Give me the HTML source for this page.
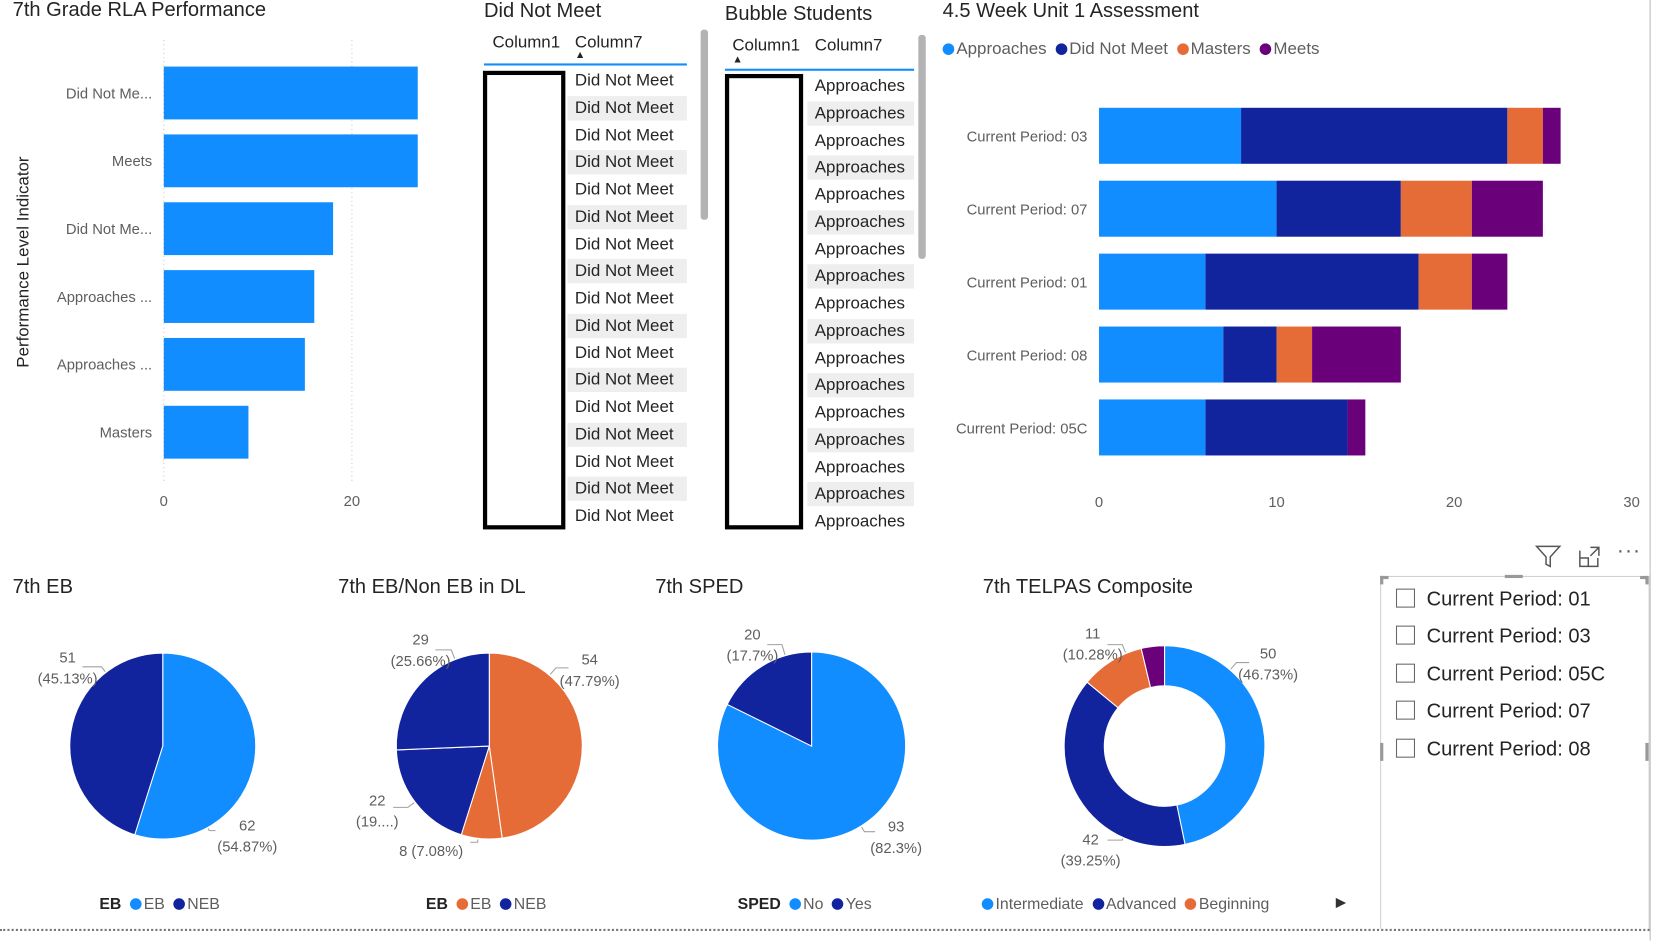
<!DOCTYPE html>
<html><head><meta charset="utf-8">
<style>
html,body{margin:0;padding:0;background:#fff;overflow:hidden;width:1657px;height:940px}
#root{position:absolute;left:0;top:0;width:1568px;height:890px;transform:scale(1.05676);transform-origin:0 0;font-family:"Liberation Sans",sans-serif;color:#252423}
.t{position:absolute;white-space:nowrap}
.title{font-size:19px;color:#252423}
.lbl{font-size:14px;fill:#605e5c;font-family:"Liberation Sans",sans-serif}
.row{position:absolute;height:23px;font-size:16px;line-height:23px;padding-left:7px;color:#252423}
.slicer-item{position:absolute;left:1321px;font-size:19px;color:#252423}
.cb{display:inline-block;width:16px;height:16px;border:1px solid #666;vertical-align:-2px;margin-right:11px}
.dot{display:inline-block;width:11px;height:11px;border-radius:50%;margin:0 2px 0 4px;vertical-align:-1px}
</style></head><body>
<div id="root">
<svg id="svg" width="1568" height="890" style="position:absolute;left:0;top:0"></svg>

<div class="t title" style="left:12px;top:-1px">7th Grade RLA Performance</div>
<div class="t title" style="left:458px;top:0px">Did Not Meet</div>
<div class="t title" style="left:686px;top:3px">Bubble Students</div>
<div class="t title" style="left:892px;top:0px">4.5 Week Unit 1 Assessment</div>
<div class="t title" style="left:12px;top:545px">7th EB</div>
<div class="t title" style="left:320px;top:545px">7th EB/Non EB in DL</div>
<div class="t title" style="left:620px;top:545px">7th SPED</div>
<div class="t title" style="left:930px;top:545px">7th TELPAS Composite</div>

<div>
<div class="t" style="left:466px;top:32px;font-size:16px">Column1</div>
<div class="t" style="left:544px;top:32px;font-size:16px">Column7</div>
<div class="t" style="left:544px;top:47px;font-size:10px">▲</div>
<div style="position:absolute;left:458px;top:60px;width:192px;height:2px;background:#118DFF"></div>
<div style="position:absolute;left:457px;top:67px;width:70px;height:426px;border:4px solid #000"></div>
<div id="t1rows"></div>
<div style="position:absolute;left:663px;top:28px;width:7px;height:180px;background:#b3b3b3;border-radius:3px"></div>
</div>

<div>
<div class="t" style="left:693px;top:35px;font-size:16px">Column1</div>
<div class="t" style="left:771px;top:35px;font-size:16px">Column7</div>
<div class="t" style="left:693px;top:51px;font-size:10px">▲</div>
<div style="position:absolute;left:686px;top:65px;width:179px;height:2px;background:#118DFF"></div>
<div style="position:absolute;left:686px;top:70px;width:66px;height:423px;border:4px solid #000"></div>
<div id="t2rows"></div>
<div style="position:absolute;left:869px;top:33px;width:7px;height:212px;background:#b3b3b3;border-radius:3px"></div>
</div>

<div class="t" style="left:888px;top:38px;font-size:16px;color:#605e5c">
<span><span class="dot" style="background:#118DFF"></span>Approaches</span>
<span><span class="dot" style="background:#12239E"></span>Did Not Meet</span>
<span><span class="dot" style="background:#E66C37"></span>Masters</span>
<span><span class="dot" style="background:#6B007B"></span>Meets</span>
</div>

<div class="t" style="left:94px;top:847px;font-size:15px;color:#605e5c"><b style="color:#252423">EB</b> <span class="dot" style="background:#118DFF"></span>EB <span class="dot" style="background:#12239E"></span>NEB</div>
<div class="t" style="left:403px;top:847px;font-size:15px;color:#605e5c"><b style="color:#252423">EB</b> <span class="dot" style="background:#E66C37"></span>EB <span class="dot" style="background:#12239E"></span>NEB</div>
<div class="t" style="left:698px;top:847px;font-size:15px;color:#605e5c"><b style="color:#252423">SPED</b> <span class="dot" style="background:#118DFF"></span>No <span class="dot" style="background:#12239E"></span>Yes</div>
<div class="t" style="left:925px;top:847px;font-size:15px;color:#605e5c"><span class="dot" style="background:#118DFF"></span>Intermediate <span class="dot" style="background:#12239E"></span>Advanced <span class="dot" style="background:#E66C37"></span>Beginning</div>
<div class="t" style="left:1264px;top:846px;font-size:13px;color:#333">▶</div>

<div>
<div class="t" style="left:1452px;top:513px">
<svg width="26" height="26"><path d="M2 4 L24 4 L15 14 L15 23 L11 21 L11 14 Z" fill="none" stroke="#555" stroke-width="1.4"/></svg></div>
<div class="t" style="left:1492px;top:515px"><svg width="24" height="24"><path d="M3 6 L3 21 L20 21 L20 13 M3 13 L11 13 L11 21 M13 3 L21 3 L21 11 M21 3 L13 11" fill="none" stroke="#555" stroke-width="1.4"/></svg></div>
<div class="t" style="left:1530px;top:510px;font-size:20px;color:#555;letter-spacing:1px">···</div>
<div style="position:absolute;left:1306px;top:545px;width:253px;height:333px;border:1px solid #d0d0d0;border-bottom:none"></div>
<div style="position:absolute;left:1306px;top:545px;width:8px;height:3px;background:#999"></div>
<div style="position:absolute;left:1306px;top:545px;width:3px;height:8px;background:#999"></div>
<div style="position:absolute;left:1552px;top:545px;width:8px;height:3px;background:#999"></div>
<div style="position:absolute;left:1557px;top:545px;width:3px;height:8px;background:#999"></div>
<div style="position:absolute;left:1424px;top:544px;width:17px;height:3px;background:#999"></div>
<div style="position:absolute;left:1306px;top:703px;width:3px;height:17px;background:#999"></div>
<div style="position:absolute;left:1557px;top:703px;width:3px;height:17px;background:#999"></div>
<div class="slicer-item" style="top:557px"><span class="cb"></span>Current Period: 01</div>
<div class="slicer-item" style="top:592px"><span class="cb"></span>Current Period: 03</div>
<div class="slicer-item" style="top:628px"><span class="cb"></span>Current Period: 05C</div>
<div class="slicer-item" style="top:663px"><span class="cb"></span>Current Period: 07</div>
<div class="slicer-item" style="top:699px"><span class="cb"></span>Current Period: 08</div>
</div>

<div style="position:absolute;left:1561px;top:0;width:1px;height:890px;background:#bbb"></div>
<div style="position:absolute;left:0;top:879px;width:1561px;height:0;border-top:2px dotted #777"></div>
</div>

<script>
const rlaCategories = ["Did Not Me...","Meets","Did Not Me...","Approaches ...","Approaches ...","Masters"];
const rlaValues = [27,27,18,16,15,9];
const rlaTicks = [0,20];

const periodCategories = ["Current Period: 03","Current Period: 07","Current Period: 01","Current Period: 08","Current Period: 05C"];
const approachesValues = [8,10,6,7,6];
const didNotMeetValues = [15,7,12,3,8];
const mastersValues = [2,4,3,2,0];
const meetsValues = [1,4,2,5,1];
const periodTicks = [0,10,20,30];

const ebValues = [62,51];
const ebLabels = ["62\n(54.87%)","51\n(45.13%)"];
const ebdlValues = [54,8,22,29];
const ebdlLabels = ["54\n(47.79%)","8 (7.08%)","22\n(19....)","29\n(25.66%)"];
const spedValues = [93,20];
const spedLabels = ["93\n(82.3%)","20\n(17.7%)"];
const telpasValues = [50,42,11,4];
const telpasLabels = ["50\n(46.73%)","42\n(39.25%)","11\n(10.28%)",""];

const t1Rows = Array(17).fill("Did Not Meet");
const t2Rows = Array(17).fill("Approaches");

const NS="http://www.w3.org/2000/svg";
const svg=document.getElementById('svg');
function mk(tag,attrs,parent){const e=document.createElementNS(NS,tag);for(const k in attrs)e.setAttribute(k,attrs[k]);(parent||svg).appendChild(e);return e;}

const rx0=155, rpx=178/20;
const rX=v=>rx0+v*rpx;
const rY=i=>88+i*64.2;
rlaTicks.forEach(t=>{
  const l=mk('line',{x1:rX(t),x2:rX(t),y1:38,y2:458,stroke:'#c8c6c4','stroke-dasharray':'1,3'});
  
  
  const tx=mk('text',{x:rX(t),y:479,'text-anchor':'middle',class:'lbl'});tx.textContent=t;
  
  
});
rlaValues.forEach((v,i)=>{
  const b=mk('rect',{x:rX(0),y:rY(i)-25,width:rX(v)-rX(0),height:50,fill:'#118DFF'});
  
  
  const tx=mk('text',{x:144,y:rY(i)+5,'text-anchor':'end',class:'lbl'});tx.textContent=rlaCategories[i];
  
  
});
{const yt=mk('text',{x:0,y:0,transform:'translate(27,248) rotate(-90)','text-anchor':'middle',style:'font-size:16px;fill:#252423;font-family:Liberation Sans,sans-serif'});yt.textContent='Performance Level Indicator';

}

const sx0=1040, spx=16.8;
const sX=v=>sx0+v*spx;
const sY=i=>129+i*69;
periodTicks.forEach(t=>{
  const tx=mk('text',{x:sX(t),y:480,'text-anchor':'middle',class:'lbl'});tx.textContent=t;
  
  
});
const series=[[approachesValues,'#118DFF','approaches'],[didNotMeetValues,'#12239E','did-not-meet'],[mastersValues,'#E66C37','masters'],[meetsValues,'#6B007B','meets']];
periodCategories.forEach((c,i)=>{
  let acc=0;
  series.forEach(([vals,col,nm])=>{
    const v=vals[i];
    if(v>0){const r=mk('rect',{x:sX(acc),y:sY(i)-27,width:sX(acc+v)-sX(acc),height:53,fill:col});
    
    }
    acc+=v;
  });
  const tx=mk('text',{x:1029,y:sY(i)+5,'text-anchor':'end',class:'lbl'});tx.textContent=c;
  
  
});

// labelPos: [textX, textY, elbowX, elbowY, endX]
function pie(cx,cy,r,ri,vals,cols,labels,name,labelPos){
  const tot=vals.reduce((a,b)=>a+b,0);let a0=0;
  vals.forEach((v,i)=>{
    const a1=a0+v/tot*Math.PI*2;
    const p=(a,rr)=>[cx+rr*Math.sin(a),cy-rr*Math.cos(a)];
    const large=(a1-a0)>Math.PI?1:0;
    const [x0,y0]=p(a0,r),[x1,y1]=p(a1,r);
    let d;
    if(ri>0){const [x2,y2]=p(a1,ri),[x3,y3]=p(a0,ri);
      d=`M${x0},${y0}A${r},${r} 0 ${large} 1 ${x1},${y1}L${x2},${y2}A${ri},${ri} 0 ${large} 0 ${x3},${y3}Z`;}
    else d=`M${cx},${cy}L${x0},${y0}A${r},${r} 0 ${large} 1 ${x1},${y1}Z`;
    const s=mk('path',{d,fill:cols[i],stroke:'#fff','stroke-width':1});
    
    
    if(labels[i]&&labelPos[i]){
      const lp=labelPos[i];
      const ang=Math.atan2(lp[4]-cx,-(lp[3]-cy));
      const [ex,ey]=p(ang,r+1);
      const ln=mk('polyline',{points:`${lp[2]},${lp[3]} ${lp[4]},${lp[3]} ${ex},${ey}`,fill:'none',stroke:'#a0a0a0'});
      
      
      labels[i].split('\n').forEach((t,k)=>{
        const tx=mk('text',{x:lp[0],y:lp[1]+k*20,'text-anchor':'middle',class:'lbl'});tx.textContent=t;
        
        
      });
    }
    a0=a1;
  });
}
pie(154,706,88,0,ebValues,['#118DFF','#12239E'],ebLabels,'eb-pie',[[234,786,204,786,198],[64,627,78,631,96]]);
pie(463,706,88,0,ebdlValues,['#E66C37','#E66C37','#12239E','#12239E'],ebdlLabels,'eb-dl-pie',[[558,629,538,632,526],[408,810,445,797,452],[357,762,372,764,386],[398,610,412,615,427]]);
pie(768,706,89,0,spedValues,['#118DFF','#12239E'],spedLabels,'sped-pie',[[848,787,828,787,818],[712,605,726,610,740]]);
pie(1102,706,95,57,telpasValues,['#118DFF','#12239E','#E66C37','#6B007B'],telpasLabels,'telpas-donut',[[1200,623,1182,627,1170],[1032,799,1048,795,1062],[1034,604,1048,610,1062],null]);

function rows(id,data,x,y0,w,nm){
  const host=document.getElementById(id);
  data.forEach((t,i)=>{
    const y=y0+i*25.75; if(y>492) return;
    const d=document.createElement('div');
    d.className='row';
    d.style.left=x+'px';d.style.top=y+'px';d.style.width=(w-7)+'px';
    if(i%2==1)d.style.background='#eeeeee';
    d.textContent=t;
    
    
    host.appendChild(d);
  });
}
rows('t1rows',t1Rows,537,65,113,'did-not-meet-row');
rows('t2rows',t2Rows,764,70,101,'bubble-student-row');
</script>
</body></html>
